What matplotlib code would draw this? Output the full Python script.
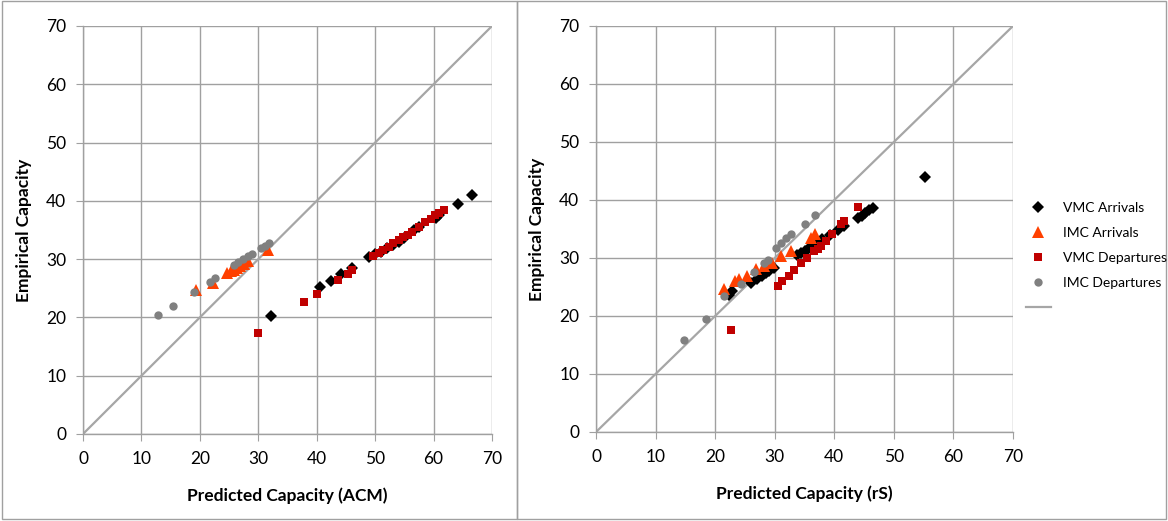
#!/usr/bin/env python3
"""
Empirical vs predicted capacity, ACM and rS side by side.
"""
import matplotlib
matplotlib.use('Agg')
import matplotlib.pyplot as plt
from matplotlib.lines import Line2D
from matplotlib.patches import Rectangle

plt.rcParams['font.family'] = ['Lato', 'DejaVu Sans']

GRID = '#a0a0a0'
DIAG = '#a6a6a6'

# --- left panel: ACM ---
acm_vmc_arr_x = [32.2, 40.5, 42.4, 44.1, 46.1, 48.9, 50.0, 51.0, 52.0, 53.0, 54.0, 55.0,
                 56.6, 57.5, 60.4, 61.0, 64.1, 66.6]
acm_vmc_arr_y = [20.2, 25.3, 26.3, 27.5, 28.5, 30.4, 30.8, 31.3, 31.9, 32.4, 33.0, 33.7,
                 35.0, 35.6, 37.0, 37.6, 39.5, 41.0]
acm_imc_arr_x = [19.4, 22.3, 24.7, 25.3, 25.9, 26.4, 26.9, 27.5, 28.3, 31.6]
acm_imc_arr_y = [24.7, 25.9, 27.6, 27.9, 28.2, 28.4, 28.8, 29.2, 29.7, 31.6]
acm_vmc_dep_x = [30.0, 37.9, 40.1, 43.7, 45.3, 46.1, 49.7, 50.6, 51.4, 52.3, 53.1, 54.0,
                 54.8, 55.6, 56.3, 57.5, 58.6, 59.5, 60.3, 61.0, 61.7]
acm_vmc_dep_y = [17.4, 22.7, 24.1, 26.5, 27.5, 28.2, 30.5, 31.0, 31.5, 32.1, 32.7, 33.2,
                 33.8, 34.2, 34.7, 35.5, 36.4, 36.9, 37.5, 37.9, 38.4]
acm_imc_dep_x = [12.9, 15.4, 19.0, 21.8, 22.6, 25.9, 26.6, 27.4, 28.2, 29.0, 30.4, 31.2, 31.9]
acm_imc_dep_y = [20.5, 22.0, 24.4, 26.1, 26.8, 29.0, 29.5, 30.0, 30.5, 30.9, 31.9, 32.3, 32.8]

# --- right panel: rS ---
rs_vmc_arr_x = [22.3, 22.9, 26.0, 27.1, 27.9, 28.6, 29.1, 29.9, 33.8, 34.4, 35.0, 35.6,
                36.1, 37.0, 38.0, 39.2, 40.6, 41.7, 44.0, 44.6, 45.1, 45.8, 46.5, 55.3]
rs_vmc_arr_y = [23.7, 24.3, 25.7, 26.3, 26.9, 27.4, 27.8, 28.3, 30.6, 30.9, 31.2, 31.5,
                31.7, 32.4, 33.2, 34.0, 34.9, 35.5, 36.9, 37.3, 37.8, 38.2, 38.7, 43.9]
rs_imc_arr_x = [21.5, 23.4, 24.0, 25.4, 26.8, 28.2, 29.6, 31.0, 32.7, 36.1, 36.8]
rs_imc_arr_y = [24.6, 26.0, 26.4, 26.9, 28.1, 28.6, 29.2, 30.3, 31.2, 33.5, 34.1]
rs_vmc_dep_x = [22.7, 30.5, 31.3, 32.4, 33.3, 34.4, 35.5, 36.6, 37.2, 37.8, 38.6, 39.7,
                41.1, 41.7, 44.0]
rs_vmc_dep_y = [17.6, 25.2, 26.0, 26.9, 28.0, 29.2, 30.0, 31.2, 31.6, 32.1, 32.9, 34.1,
                35.8, 36.4, 38.8]
rs_imc_dep_x = [14.7, 18.5, 21.5, 24.3, 26.5, 28.2, 28.8, 30.2, 31.0, 31.9, 32.7, 35.0, 36.8]
rs_imc_dep_y = [15.9, 19.5, 23.4, 25.5, 27.6, 29.2, 29.7, 31.8, 32.6, 33.5, 34.1, 35.8, 37.5]

ticks = [0, 10, 20, 30, 40, 50, 60, 70]

STYLES = [
    ('VMC Arrivals', dict(marker='D', color='black', markersize=6.2)),
    ('IMC Arrivals', dict(marker='^', color='#ff4000', markersize=8.5)),
    ('VMC Departures', dict(marker='s', color='#c00000', markersize=6.2)),
    ('IMC Departures', dict(marker='o', color='#808080', markersize=6.0)),
]


def style_axes(ax, xlabel):
    ax.set_xlim(0, 70)
    ax.set_ylim(0, 70)
    ax.set_xticks(ticks)
    ax.set_yticks(ticks)
    ax.grid(True, color=GRID, linewidth=1.0)
    ax.set_axisbelow(True)
    for side in ['top', 'right']:
        ax.spines[side].set_visible(False)
    for side in ['left', 'bottom']:
        ax.spines[side].set_color(GRID)
        ax.spines[side].set_linewidth(1.0)
    ax.tick_params(direction='out', length=5, color=GRID, labelsize=12.5,
                   labelcolor='black', pad=7)
    ax.set_xlabel(xlabel, fontsize=12.5, fontweight='bold', labelpad=15)
    ax.set_ylabel('Empirical Capacity', fontsize=12.5, fontweight='bold', labelpad=10)
    ax.plot([0, 70], [0, 70], color=DIAG, linewidth=1.6, zorder=2)


def draw(ax, series):
    for (label, st), (xs, ys) in zip(STYLES, series):
        ax.plot(xs, ys, linestyle='none', markeredgewidth=0, zorder=3,
                marker=st['marker'], color=st['color'], markersize=st['markersize'])


fig = plt.figure(figsize=(11.68, 5.21), dpi=100)

ax1 = fig.add_axes([83 / 1168, 1 - 434 / 521, (492 - 83) / 1168, (434 - 26) / 521])
ax2 = fig.add_axes([596 / 1168, 1 - 432 / 521, (1013 - 596) / 1168, (432 - 26) / 521])

draw(ax1, [(acm_vmc_arr_x, acm_vmc_arr_y), (acm_imc_arr_x, acm_imc_arr_y),
           (acm_vmc_dep_x, acm_vmc_dep_y), (acm_imc_dep_x, acm_imc_dep_y)])
draw(ax2, [(rs_vmc_arr_x, rs_vmc_arr_y), (rs_imc_arr_x, rs_imc_arr_y),
           (rs_vmc_dep_x, rs_vmc_dep_y), (rs_imc_dep_x, rs_imc_dep_y)])

style_axes(ax1, 'Predicted Capacity (ACM)')
style_axes(ax2, 'Predicted Capacity (rS)')

handles = [Line2D([], [], linestyle='none', markeredgewidth=0, **st) for _, st in STYLES]
handles.append(Line2D([], [], color=DIAG, linewidth=1.6))
labels = [lab for lab, _ in STYLES] + ['']
fig.legend(handles, labels, loc='upper left', bbox_to_anchor=(1020 / 1168, 1 - 196 / 521),
           frameon=False, fontsize=10, labelspacing=0.95, handlelength=1.8,
           handletextpad=0.9, borderaxespad=0)

# panel frames
fig.add_artist(Rectangle((0.002, 0.003), 0.441, 0.995, transform=fig.transFigure,
                         fill=False, edgecolor=GRID, linewidth=1.0))
fig.add_artist(Rectangle((0.443, 0.003), 0.555, 0.995, transform=fig.transFigure,
                         fill=False, edgecolor=GRID, linewidth=1.0))

fig.savefig('out.png', dpi=100)
